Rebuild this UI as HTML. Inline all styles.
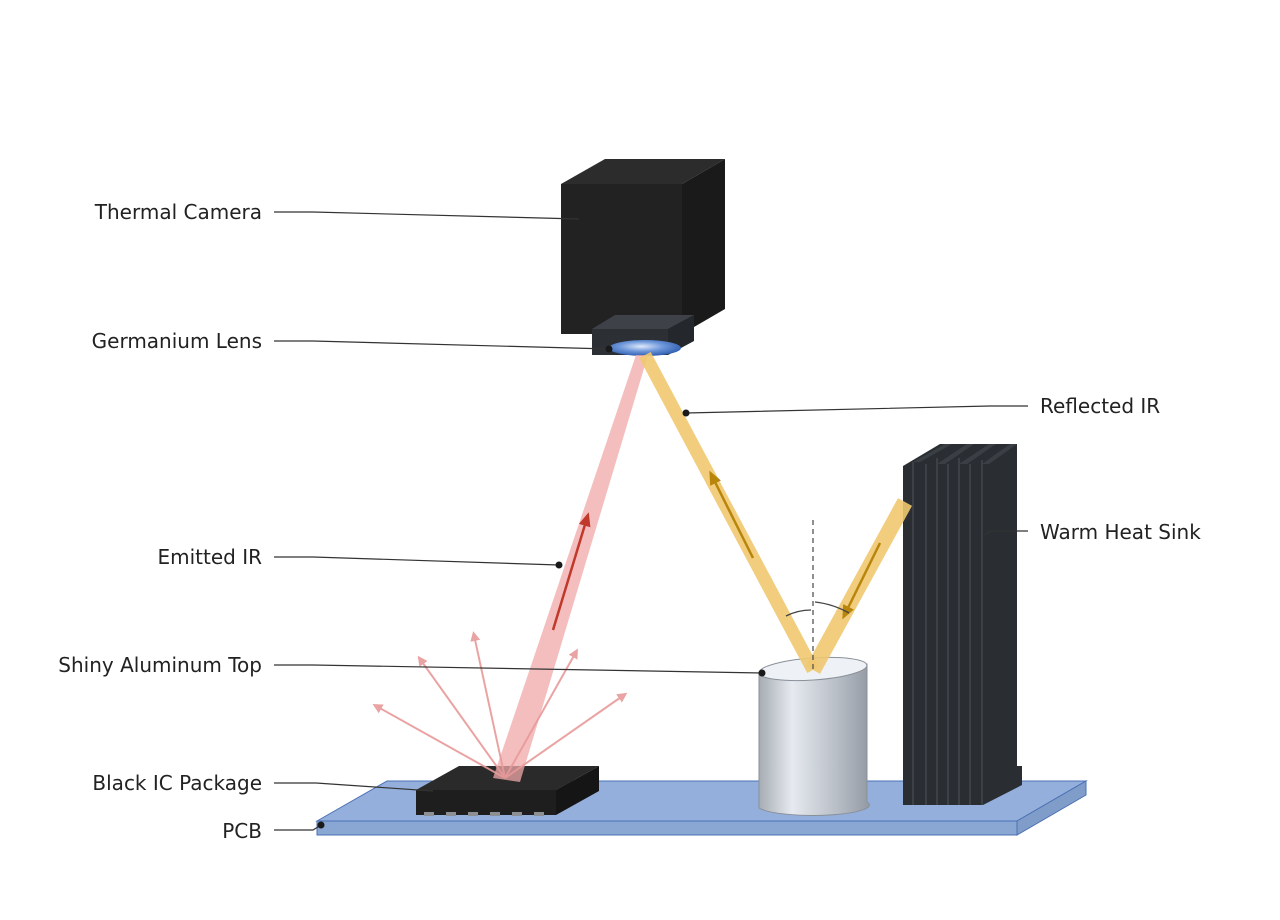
<!DOCTYPE html>
<html><head><meta charset="utf-8"><style>
html,body{margin:0;padding:0;background:#fff;}
svg{display:block;}
text{font-family:"DejaVu Sans",sans-serif;font-size:20px;fill:#222;}
</style></head><body>
<svg width="1280" height="920" viewBox="0 0 1280 920" xmlns="http://www.w3.org/2000/svg">
<defs>
<radialGradient id="lens" cx="0.45" cy="0.4" r="0.6">
<stop offset="0" stop-color="#dfe9fb"/><stop offset="0.5" stop-color="#6f98da"/><stop offset="1" stop-color="#2f5eb0"/></radialGradient>
<linearGradient id="cyl" x1="0" x2="1" y1="0" y2="0">
<stop offset="0" stop-color="#a7acb3"/><stop offset="0.3" stop-color="#e6eaf0"/><stop offset="0.7" stop-color="#b9bfc7"/><stop offset="1" stop-color="#939aa3"/></linearGradient>
<marker id="ar" markerWidth="10" markerHeight="10" refX="6" refY="5" orient="auto" markerUnits="userSpaceOnUse"><path d="M0,0 L10,5 L0,10 z" fill="#e89a9a"/></marker>
<marker id="ar2" markerWidth="14" markerHeight="14" refX="8" refY="7" orient="auto" markerUnits="userSpaceOnUse"><path d="M0,1 L14,7 L0,13 z" fill="#c0392b"/></marker>
<marker id="ay" markerWidth="14" markerHeight="14" refX="8" refY="7" orient="auto" markerUnits="userSpaceOnUse"><path d="M0,1 L14,7 L0,13 z" fill="#b8860b"/></marker>
</defs>
<!-- PCB -->
<polygon points="317,821 387,781 1086,781 1017,821" fill="#94afdb" stroke="#4a70b5" stroke-width="1"/>
<polygon points="317,821 1017,821 1017,835 317,835" fill="#8aa6d2" stroke="#4a70b5" stroke-width="1"/>
<polygon points="1017,821 1086,781 1086,795 1017,835" fill="#809dc9" stroke="#4a70b5" stroke-width="1"/>
<!-- heat sink -->
<polygon points="903,466 940,444 1017,444 1017,766 1022,766 1022,785 983,805 903,805" fill="#2a2e32"/>
<g stroke="#3c4147" stroke-width="2">
<line x1="913" y1="462" x2="913" y2="805"/><line x1="926" y1="464" x2="926" y2="805"/><line x1="937" y1="458" x2="937" y2="805"/><line x1="948" y1="464" x2="948" y2="805"/><line x1="959" y1="458" x2="959" y2="805"/><line x1="970" y1="464" x2="970" y2="805"/><line x1="982" y1="460" x2="982" y2="805"/>
</g>
<g fill="#3a3f45">
<polygon points="913,462 945,444 952,444 920,462"/><polygon points="937,464 967,444 974,444 945,464"/><polygon points="959,464 989,444 996,444 967,464"/><polygon points="982,464 1010,444 1017,444 989,464"/>
</g>
<!-- cylinder -->
<path d="M759,672 L759,808 A54,10 0 0 0 867,802 L867,664 Z" fill="url(#cyl)" stroke="#8a9099" stroke-width="1"/>
<ellipse cx="813" cy="669" rx="54" ry="11" transform="rotate(-4 813 669)" fill="#eef2f6" stroke="#8a9099" stroke-width="1"/>
<!-- IC -->
<polygon points="416,790 459,766 599,766 556,790" fill="#2a2a2a"/>
<rect x="416" y="790" width="140" height="25" fill="#1e1e1e"/>
<polygon points="556,790 599,766 599,791 556,815" fill="#151515"/>
<g fill="#8c8f93"><rect x="424" y="812" width="10" height="4"/><rect x="446" y="812" width="10" height="4"/><rect x="468" y="812" width="10" height="4"/><rect x="490" y="812" width="10" height="4"/><rect x="512" y="812" width="10" height="4"/><rect x="534" y="812" width="10" height="4"/></g>
<!-- camera -->
<polygon points="561,184 605,159 725,159 682,184" fill="#2c2c2c"/>
<rect x="561" y="184" width="121" height="150" fill="#222"/>
<polygon points="682,184 725,159 725,309 682,334" fill="#1a1a1a"/>
<polygon points="592,329 615,315 694,315 668,329" fill="#3e4147"/>
<rect x="592" y="329" width="76" height="26" fill="#2c2f34"/>
<polygon points="668,329 694,315 694,341 668,355" fill="#24272b"/>
<ellipse cx="645" cy="348" rx="36" ry="8" fill="url(#lens)"/>
<!-- red beam -->
<polygon points="636,355 648,355 520,782 493,778" fill="#f0a8a8" opacity="0.75"/>
<line x1="553" y1="630" x2="587" y2="518" stroke="#c0392b" stroke-width="2.5" marker-end="url(#ar2)"/>
<g stroke="#e89a9a" stroke-width="2" fill="none" opacity="0.9">
<line x1="505" y1="778" x2="376" y2="706" marker-end="url(#ar)"/>
<line x1="505" y1="778" x2="420" y2="659" marker-end="url(#ar)"/>
<line x1="505" y1="778" x2="474" y2="635" marker-end="url(#ar)"/>
<line x1="505" y1="778" x2="576" y2="652" marker-end="url(#ar)"/>
<line x1="505" y1="778" x2="624" y2="695" marker-end="url(#ar)"/>
</g>
<!-- yellow beams -->
<line x1="645" y1="355" x2="813" y2="670" stroke="#f0c870" stroke-width="13" opacity="0.9"/>
<line x1="813" y1="670" x2="905" y2="502" stroke="#f0c870" stroke-width="16" opacity="0.9"/>
<line x1="753" y1="558" x2="712" y2="476" stroke="#b8860b" stroke-width="2.5" marker-end="url(#ay)"/>
<line x1="880" y1="543" x2="845" y2="614" stroke="#b8860b" stroke-width="2.5" marker-end="url(#ay)"/>
<line x1="813" y1="520" x2="813" y2="672" stroke="#555" stroke-width="1.3" stroke-dasharray="5,4"/>
<path d="M786,616 Q798,610 811,610" stroke="#444" stroke-width="1.3" fill="none"/>
<path d="M815,602 Q833,604 849,613" stroke="#444" stroke-width="1.3" fill="none"/>
<!-- leaders -->
<g stroke="#333" stroke-width="1.2" fill="none">
<polyline points="274,212 313,212 579,219"/>
<polyline points="274,341 313,341 609,349"/>
<polyline points="686,413 990,406 1028,406"/>
<polyline points="985,535 990,531 1028,531"/>
<polyline points="274,557 313,557 559,565"/>
<polyline points="274,665 313,665 762,673"/>
<polyline points="274,783 316,783 433,791"/>
<polyline points="274,830 313,830 321,825"/>
</g>
<g fill="#1a1a1a"><circle cx="609" cy="349" r="3.5"/><circle cx="686" cy="413" r="3.5"/><circle cx="559" cy="565" r="3.5"/><circle cx="762" cy="673" r="3.5"/><circle cx="321" cy="825" r="3.5"/></g>
<!-- labels -->
<g text-anchor="end">
<text x="262" y="219">Thermal Camera</text>
<text x="262" y="348">Germanium Lens</text>
<text x="262" y="564">Emitted IR</text>
<text x="262" y="672">Shiny Aluminum Top</text>
<text x="262" y="790">Black IC Package</text>
<text x="262" y="838">PCB</text>
</g>
<text x="1040" y="413">Reflected IR</text>
<text x="1040" y="539">Warm Heat Sink</text>
</svg>
</body></html>
